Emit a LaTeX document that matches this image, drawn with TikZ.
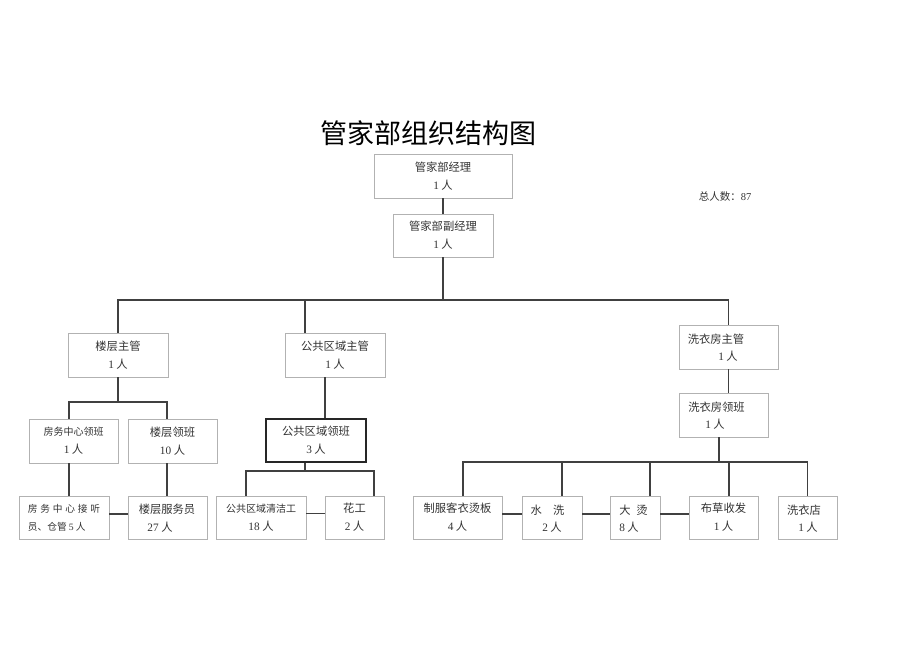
\documentclass[tikz,border=0pt]{standalone}
\usepackage{fontspec}
\setmainfont{Noto Sans CJK SC}
\newfontfamily\serdigits{Liberation Serif}
\newcommand\dg[1]{{\serdigits #1}}
\begin{document}
\begin{tikzpicture}[x=1pt,y=-1pt,
  box/.style={draw=gray!60, line width=0.7pt, rectangle, inner sep=0pt, align=center, text=black!80, font=\fontsize{11.3}{18}\selectfont},
  boxb/.style={box, draw=black!85, line width=1.3pt},
  txt/.style={inner sep=0pt, text=black!80, font=\fontsize{11.3}{13}\selectfont},
  conn/.style={draw=black!75, line width=1.1pt}]
\fill[white] (0,0) rectangle (920,651);
\useasboundingbox (0,0) rectangle (920,651);

% title and total
\node[inner sep=0pt, font=\fontsize{27}{30}\selectfont] (title) at (428.5,133.5) {管家部组织结构图};
\node[txt, font=\fontsize{10.5}{12}\selectfont] (total) at (725,197) {总人数：\dg{87}};

% top
\node[box, minimum width=138pt, minimum height=44pt] (b1) at (443,176) {管家部经理\\\dg{1} 人};
\node[box, minimum width=100pt, minimum height=43pt] (b2) at (443,235.5) {管家部副经理\\\dg{1} 人};

% managers
\node[box, minimum width=100pt, minimum height=44pt] (b3) at (118,355) {楼层主管\\\dg{1} 人};
\node[box, minimum width=100pt, minimum height=44pt] (b4) at (335,355) {公共区域主管\\\dg{1} 人};
\node[box, minimum width=99pt, minimum height=44pt] (b5) at (728.5,347) {};
\node[txt] (b5a) at (716,339) {洗衣房主管};
\node[txt] (b5b) at (728,356) {\dg{1} 人};
\node[box, minimum width=89pt, minimum height=44pt] (b6) at (723.5,415) {};
\node[txt] (b6a) at (716.5,407) {洗衣房领班};
\node[txt] (b6b) at (715,424) {\dg{1} 人};

% left branch
\node[box, minimum width=89pt, minimum height=44pt] (b7) at (73.5,441) {{\fontsize{10}{18}\selectfont 房务中心领班}\\\dg{1} 人};
\node[box, minimum width=89pt, minimum height=44pt] (b8) at (172.5,441) {楼层领班\\\dg{10} 人};
\node[box, minimum width=90pt, minimum height=43pt, align=left, font=\fontsize{9.7}{18}\selectfont] (b9) at (64,517.5)
  {房\hspace{2.8pt}务\hspace{2.8pt}中\hspace{2.8pt}心\hspace{2.8pt}接\hspace{2.8pt}听\\员、仓管 \dg{5} 人};
\node[box, minimum width=79pt, minimum height=43pt] (b10) at (167.5,517.5) {};
\node[txt] (b10a) at (167,509) {楼层服务员};
\node[txt] (b10b) at (160,527) {\dg{27} 人};

% middle branch
\node[boxb, minimum width=100pt, minimum height=43pt] (b11) at (316,440.5) {公共区域领班\\\dg{3} 人};
\node[box, minimum width=90pt, minimum height=43pt] (b12) at (261,517.5) {{\fontsize{10}{18}\selectfont 公共区域清洁工}\\\dg{18} 人};
\node[box, minimum width=59pt, minimum height=43pt] (b13) at (354.5,517.5) {花工\\\dg{2} 人};

% right branch
\node[box, minimum width=89pt, minimum height=43pt] (b14) at (457.5,517.5) {制服客衣烫板\\\dg{4} 人};
\node[box, minimum width=60pt, minimum height=43pt] (b15) at (552,517.5) {};
\node[txt] (b15a) at (547.5,510) {水\hspace{1em}洗};
\node[txt] (b15b) at (552,527) {\dg{2} 人};
\node[box, minimum width=50pt, minimum height=43pt] (b16) at (635,517.5) {};
\node[txt] (b16a) at (633.5,510) {大\hspace{0.5em}烫};
\node[txt] (b16b) at (629,527) {\dg{8} 人};
\node[box, minimum width=69pt, minimum height=43pt] (b17) at (723.5,517.5) {布草收发\\\dg{1} 人};
\node[box, minimum width=59pt, minimum height=43pt] (b18) at (807.5,517.5) {};
\node[txt] (b18a) at (804,510) {洗衣店};
\node[txt] (b18b) at (808,527) {\dg{1} 人};

% bus coordinates
\coordinate (bus) at (0,300);
\coordinate (busL) at (0,402);
\coordinate (busM) at (0,471);
\coordinate (busR) at (0,462);

% connectors
\draw[conn] (b1.south) -- (b2.north);
\draw[conn] (b2.south) -- (b2.south |- bus);
\draw[conn] (b3.north) -- (b3.north |- bus) -- (b5.north |- bus) -- (b5.north);
\draw[conn] ([xshift=-30pt]b4.north) -- ([xshift=-30pt]b4.north |- bus);
\draw[conn] (b5.south) -- (b5.south |- b6.north);

% left
\draw[conn] (b3.south) -- (b3.south |- busL);
\draw[conn] ([xshift=-4.5pt]b7.north) -- ([xshift=-4.5pt]b7.north |- busL) -- ([xshift=-5.5pt]b8.north |- busL) -- ([xshift=-5.5pt]b8.north);
\draw[conn] ([xshift=-4.5pt]b7.south) -- ([xshift=-4.5pt]b7.south |- b9.north);
\draw[conn] ([xshift=-5.5pt]b8.south) -- ([xshift=-5.5pt]b8.south |- b10.north);
\draw[conn] ([yshift=3.5pt]b9.east) -- ([yshift=3.5pt]b10.west);

% middle
\draw[conn] ([xshift=-10pt]b4.south) -- ([xshift=-10pt]b4.south |- b11.north);
\draw[conn] ([xshift=-11pt]b11.south) -- ([xshift=-11pt]b11.south |- busM);
\draw[conn] ([xshift=-15pt]b12.north) -- ([xshift=-15pt]b12.north |- busM) -- ([xshift=19.5pt]b13.north |- busM) -- ([xshift=19.5pt]b13.north);
\draw[conn] ([yshift=4pt]b12.east) -- ([yshift=4pt]b13.west);

% right
\draw[conn] ([xshift=-4.5pt]b6.south) -- ([xshift=-4.5pt]b6.south |- busR);
\draw[conn] ([xshift=5.5pt]b14.north) -- ([xshift=5.5pt]b14.north |- busR) -- (b18.north |- busR) -- (b18.north);
\draw[conn] ([xshift=10pt]b15.north) -- ([xshift=10pt]b15.north |- busR);
\draw[conn] ([xshift=15pt]b16.north) -- ([xshift=15pt]b16.north |- busR);
\draw[conn] ([xshift=5.5pt]b17.north) -- ([xshift=5.5pt]b17.north |- busR);
\draw[conn] ([yshift=3.5pt]b14.east) -- ([yshift=3.5pt]b15.west);
\draw[conn] ([yshift=3.5pt]b15.east) -- ([yshift=3.5pt]b16.west);
\draw[conn] ([yshift=3.5pt]b16.east) -- ([yshift=3.5pt]b17.west);
\end{tikzpicture}
\end{document}
